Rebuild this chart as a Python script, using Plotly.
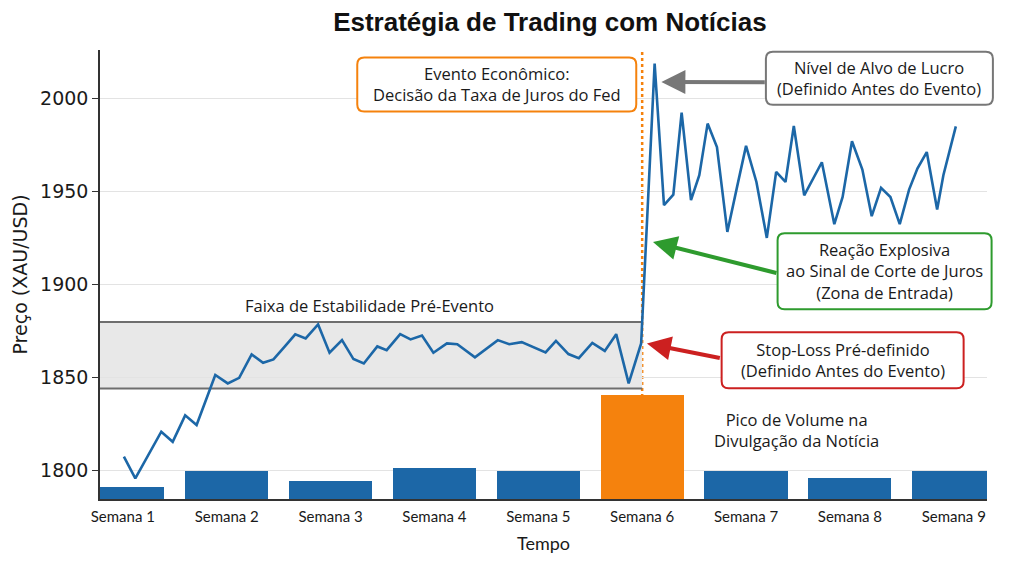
import plotly.graph_objects as go

# ---------------- data ----------------
weeks = [1, 2, 3, 4, 5, 6, 7, 8, 9]
week_labels = ["Semana 1", "Semana 2", "Semana 3", "Semana 4", "Semana 5",
               "Semana 6", "Semana 7", "Semana 8", "Semana 9"]
# volume (height above the base of the price axis, in price units)
volume = [6.5, 15.1, 9.7, 16.7, 15.1, 56.0, 15.1, 11.3, 15.1]
event_week = 6

time_pre = [1.01, 1.12, 1.37, 1.48, 1.60, 1.71, 1.89, 2.01, 2.12, 2.24, 2.35, 2.45,
            2.56, 2.66, 2.76, 2.88, 2.99, 3.11, 3.22, 3.32, 3.45, 3.54, 3.67, 3.77,
            3.88, 3.99, 4.12, 4.22, 4.39, 4.61, 4.72, 4.84, 5.07, 5.17, 5.29, 5.39,
            5.52, 5.64, 5.75, 5.87, 5.99]
price_pre = [1807.2, 1795.5, 1820.6, 1815.2, 1829.4, 1824.2, 1851.1, 1846.6, 1849.6,
             1862.2, 1857.7, 1859.5, 1866.5, 1873.0, 1870.8, 1878.3, 1863.1, 1869.9,
             1859.7, 1857.3, 1866.5, 1864.5, 1873.1, 1870.3, 1872.4, 1863.1, 1868.1,
             1867.7, 1860.6, 1869.9, 1867.7, 1868.8, 1863.3, 1869.5, 1862.4, 1860.2,
             1868.4, 1864.1, 1873.1, 1846.6, 1868.1]
time_post = [6.12, 6.21, 6.30, 6.38, 6.47, 6.55, 6.63, 6.72, 6.82, 6.91, 7.00, 7.10,
             7.20, 7.29, 7.38, 7.46, 7.56, 7.73, 7.85, 7.93, 8.02, 8.12, 8.21, 8.30,
             8.39, 8.48, 8.57, 8.65, 8.74, 8.84, 8.90, 9.02]
price_post = [2018.7, 1942.5, 1948.2, 1992.3, 1945.2, 1958.6, 1986.4, 1973.8, 1928.1,
              1951.4, 1974.4, 1955.0, 1924.9, 1960.4, 1955.0, 1985.1, 1947.8, 1965.6,
              1932.3, 1946.9, 1976.9, 1961.7, 1936.6, 1951.8, 1946.9, 1932.3, 1950.9,
              1962.2, 1971.1, 1940.2, 1958.6, 1984.9]

band_low, band_high = 1843.9, 1879.7
y_ticks = [1800, 1850, 1900, 1950, 2000]

# ---------------- layout constants ----------------
X_RANGE = [0.78, 9.32]
Y_RANGE = [1784.4, 2026.0]
ML, MR, MT, MB = 100, 37, 50, 77
W, H = 1024, 576
PW, PH = W - ML - MR, H - MT - MB

BLUE = "#1c67a7"
ORANGE = "#f5820d"
GREEN = "#2e9b2e"
RED = "#cc2020"
GRAY = "#777777"
FONT = "Open Sans"
TICKFONT = "Lato"


def to_paper(x, y):
    return ((x - X_RANGE[0]) / (X_RANGE[1] - X_RANGE[0]),
            (y - Y_RANGE[0]) / (Y_RANGE[1] - Y_RANGE[0]))


def rounded_box(cx, cy, wpx, hpx, color, rpx=7):
    px, py = to_paper(cx, cy)
    hw, hh = wpx / 2 / PW, hpx / 2 / PH
    rx, ry = rpx / PW, rpx / PH
    x0, x1, y0, y1 = px - hw, px + hw, py - hh, py + hh
    path = (f"M{x0+rx},{y0} L{x1-rx},{y0} Q{x1},{y0} {x1},{y0+ry} "
            f"L{x1},{y1-ry} Q{x1},{y1} {x1-rx},{y1} L{x0+rx},{y1} "
            f"Q{x0},{y1} {x0},{y1-ry} L{x0},{y0+ry} Q{x0},{y0} {x0+rx},{y0} Z")
    return dict(type="path", path=path, xref="paper", yref="paper",
                fillcolor="white", line=dict(color=color, width=2), layer="above")


fig = go.Figure()

bar_colors = [ORANGE if w == event_week else BLUE for w in weeks]
fig.add_trace(go.Bar(x=weeks, y=volume, base=Y_RANGE[0], width=0.8,
                     marker=dict(color=bar_colors, line=dict(width=0)),
                     showlegend=False, hoverinfo="skip"))

fig.add_trace(go.Scatter(x=time_pre + time_post, y=price_pre + price_post,
                         mode="lines", line=dict(color=BLUE, width=2.6),
                         showlegend=False))

shapes = [
    dict(type="rect", xref="x", yref="y", x0=X_RANGE[0], x1=event_week,
         y0=band_low, y1=band_high, fillcolor="#e8e8e8", line=dict(width=0),
         layer="below"),
    dict(type="line", xref="x", yref="y", x0=X_RANGE[0], x1=event_week,
         y0=band_high, y1=band_high, line=dict(color="#6e6e6e", width=2),
         layer="between"),
    dict(type="line", xref="x", yref="y", x0=X_RANGE[0], x1=event_week,
         y0=band_low, y1=band_low, line=dict(color="#6e6e6e", width=2),
         layer="between"),
    dict(type="line", xref="x", yref="paper", x0=event_week, x1=event_week,
         y0=0, y1=1, line=dict(color=ORANGE, width=2.5, dash="dot"),
         layer="between"),
]

# boxed callouts: (center x, center y, width px, height px, color, text)
callouts = [
    (4.60, 2007.5, 279, 54, ORANGE,
     "Evento Econômico:<br>Decisão da Taxa de Juros do Fed"),
    (8.284, 2010.8, 227, 53, GRAY,
     "Nível de Alvo de Lucro<br>(Definido Antes do Evento)"),
    (8.334, 1907.0, 214, 76, GREEN,
     "Reação Explosiva<br>ao Sinal de Corte de Juros<br>(Zona de Entrada)"),
    (7.93, 1859.1, 242, 56, RED,
     "Stop-Loss Pré-definido<br>(Definido Antes do Evento)"),
]

annotations = []
for cx, cy, wpx, hpx, col, txt in callouts:
    shapes.append(rounded_box(cx, cy, wpx, hpx, col))
    annotations.append(dict(x=cx, y=cy, xref="x", yref="y", text=txt,
                            showarrow=False,
                            font=dict(family=FONT, size=16.5, color="#1a1a1a"),
                            align="center"))

# arrows: (tip x, tip y, tail x, tail y, color)
arrows = [
    (6.185, 2008.8, 7.195, 2008.6, GRAY),
    (6.104, 1922.7, 7.307, 1905.8, GREEN),
    (6.046, 1868.1, 6.762, 1860.1, RED),
]
for x, y, ax, ay, col in arrows:
    annotations.append(dict(x=x, y=y, ax=ax, ay=ay, xref="x", yref="y",
                            axref="x", ayref="y", text="", showarrow=True,
                            arrowhead=2, arrowsize=1.2, arrowwidth=4,
                            arrowcolor=col))

annotations.append(dict(x=3.377, y=1888.7, xref="x", yref="y",
                        text="Faixa de Estabilidade Pré-Evento", showarrow=False,
                        font=dict(family=FONT, size=16.5, color="#1a1a1a")))
annotations.append(dict(x=7.487, y=1821.5, xref="x", yref="y",
                        text="Pico de Volume na<br>Divulgação da Notícia",
                        showarrow=False, align="center",
                        font=dict(family=FONT, size=16.5, color="#1a1a1a")))

fig.update_layout(
    width=W, height=H,
    margin=dict(l=ML, r=MR, t=MT, b=MB),
    paper_bgcolor="white", plot_bgcolor="white",
    title=dict(text="<b>Estratégia de Trading com Notícias</b>",
               font=dict(family="Liberation Sans", size=26, color="#111111"),
               x=0.537, xanchor="center", y=0.962, yanchor="middle"),
    shapes=shapes, annotations=annotations,
    bargap=0,
    xaxis=dict(range=X_RANGE, tickmode="array", tickvals=weeks, ticktext=week_labels,
               showgrid=False, zeroline=False, showline=True, linecolor="#333333",
               linewidth=1.5, ticks="", ticklabelstandoff=3,
               tickfont=dict(family=TICKFONT, size=15, color="#1a1a1a"),
               title=dict(text="Tempo", font=dict(family=TICKFONT, size=18, color="#1a1a1a"),
                          standoff=14)),
    yaxis=dict(range=Y_RANGE, tickmode="array", tickvals=y_ticks,
               showgrid=True, gridcolor="#e3e3e3", gridwidth=1, zeroline=False,
               showline=True, linecolor="#333333", linewidth=1.5,
               ticks="outside", ticklen=6, tickcolor="#333333",
               tickfont=dict(family="DejaVu Sans", size=19, color="#1a1a1a"),
               title=dict(text="Preço (XAU/USD)",
                          font=dict(family="DejaVu Sans", size=19, color="#1a1a1a"),
                          standoff=7)),
)

fig.write_html("out.html")
